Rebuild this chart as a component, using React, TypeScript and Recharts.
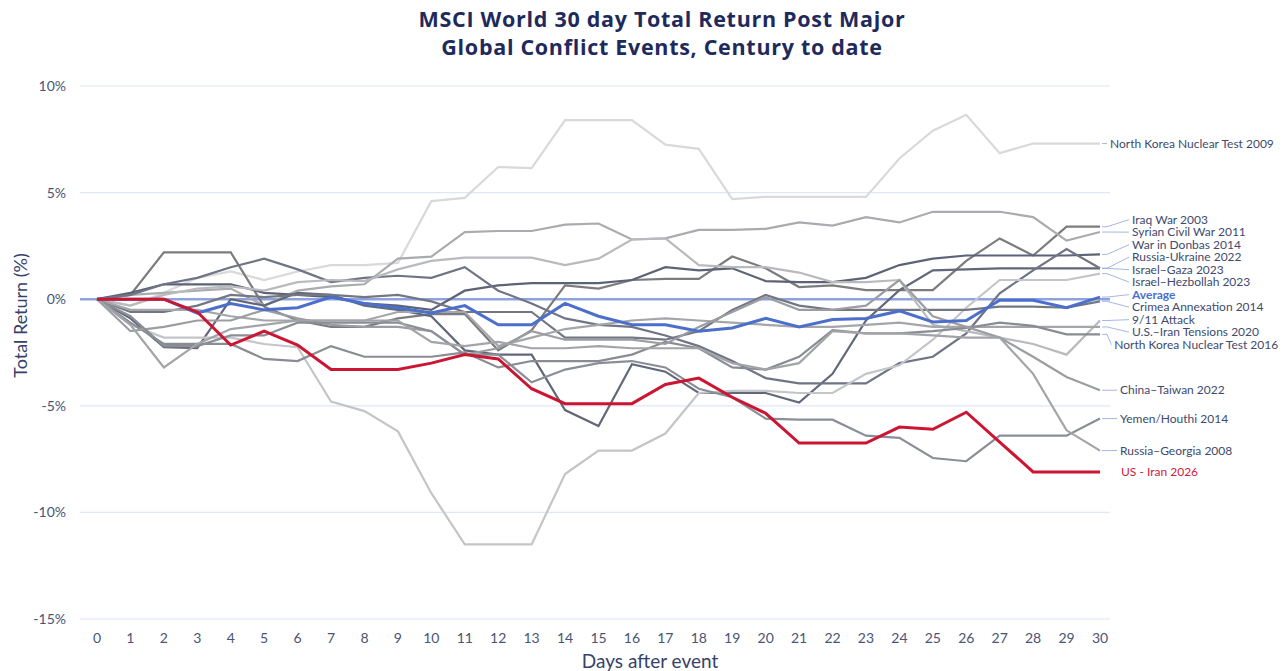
import React from 'react';
import { LineChart, Line, XAxis, YAxis, CartesianGrid, ReferenceLine } from 'recharts';

// days after the event
const days = [0, 1, 2, 3, 4, 5, 6, 7, 8, 9, 10, 11, 12, 13, 14, 15, 16, 17, 18, 19, 20, 21, 22, 23, 24, 25, 26, 27, 28, 29, 30];
const yTicks = [-15, -10, -5, 0, 5, 10];

// total return (%) per event
const northKorea2009 = [0, -0.3, 0.3, 1.0, 1.3, 0.9, 1.3, 1.6, 1.6, 1.7, 4.6, 4.75, 6.2, 6.15, 8.4, 8.4, 8.4, 7.25, 7.05, 4.7, 4.8, 4.8, 4.8, 4.8, 6.6, 7.9, 8.65, 6.85, 7.3, 7.3, 7.3];
const iraqWar = [0, 0.2, 2.2, 2.2, 2.2, -0.35, -1.0, -1.3, -1.3, -0.9, -0.7, -0.7, -2.4, -1.45, 0.65, 0.5, 0.9, 0.95, 0.95, 2.0, 1.45, 0.57, 0.65, 0.43, 0.43, 0.43, 1.8, 2.85, 2.05, 3.4, 3.4];
const syria = [0, 0.2, 0.3, 0.4, 0.5, -0.3, 0.4, 0.6, 0.7, 1.9, 2.0, 3.15, 3.2, 3.2, 3.5, 3.55, 2.8, 2.85, 3.25, 3.25, 3.3, 3.6, 3.45, 3.85, 3.6, 4.1, 4.1, 4.1, 3.85, 2.75, 3.15];
const donbas = [0, 0.3, 0.7, 0.7, 0.7, 0.3, 0.2, 0.1, -0.2, -0.3, -0.5, 0.4, 0.65, 0.75, 0.75, 0.75, 0.9, 1.5, 1.35, 1.45, 0.85, 0.8, 0.8, 1.0, 1.6, 1.9, 2.05, 2.05, 2.05, 2.05, 2.1];
const russiaUkraine = [0, -0.9, -2.25, -2.3, 0.0, -0.3, 0.3, 0.2, -0.3, -0.5, -0.8, -2.4, -2.6, -2.6, -5.2, -5.95, -3.05, -3.4, -4.4, -4.4, -4.4, -4.85, -3.5, -1.0, 0.42, 1.35, 1.4, 1.45, 1.45, 1.45, 1.45];
const israelGaza = [0, 0.2, 0.7, 1.0, 1.5, 1.9, 1.4, 0.8, 1.0, 1.1, 1.0, 1.5, 0.4, -0.2, -0.9, -1.2, -1.3, -1.7, -2.2, -2.9, -3.7, -3.95, -3.95, -3.95, -3.0, -2.7, -1.6, 0.28, 1.35, 2.35, 1.45];
const israelHezbollah = [0, -1.2, -1.8, -1.8, -1.8, -2.1, -2.25, -4.8, -5.25, -6.2, -9.1, -11.5, -11.5, -11.5, -8.2, -7.1, -7.1, -6.3, -4.4, -4.3, -4.3, -4.4, -4.4, -3.5, -3.1, -1.9, -0.4, 0.9, 0.9, 0.9, 1.2];
const crimea = [0, -0.6, -0.6, -0.3, 0.2, 0.1, 0.2, 0.2, 0.1, 0.2, -0.1, -0.6, -0.6, -0.6, -1.8, -1.8, -1.8, -1.9, -1.5, -0.5, 0.2, -0.3, -0.5, -0.5, -0.5, -0.5, -0.5, -0.35, -0.35, -0.4, -0.1];
const nineEleven = [0, -0.3, 0.2, 0.5, 0.6, 0.4, 0.8, 0.9, 0.85, 1.4, 1.8, 1.95, 1.95, 1.95, 1.6, 1.9, 2.8, 2.85, 1.6, 1.5, 1.5, 1.25, 0.8, 0.8, 0.9, -1.2, -1.5, -1.8, -2.1, -2.6, -1.0];
const usIran2020 = [0, -0.5, -0.5, -0.5, -0.8, -1.0, -1.0, -1.0, -1.0, -0.6, -0.6, -0.6, -2.2, -1.8, -1.4, -1.2, -1.0, -0.9, -1.0, -1.1, -1.2, -1.3, -1.3, -1.2, -1.1, -1.3, -1.3, -1.3, -1.3, -1.3, -1.3];
const northKorea2016 = [0, -1.1, -2.1, -2.1, -2.1, -2.8, -2.9, -2.2, -2.7, -2.7, -2.7, -2.5, -3.2, -2.9, -2.9, -2.9, -2.6, -2.0, -2.3, -3.2, -3.3, -2.7, -1.45, -1.6, -1.6, -1.5, -1.35, -1.1, -1.25, -1.65, -1.65];
const chinaTaiwan = [0, -1.5, -1.3, -1.0, -1.0, -0.5, -0.9, -1.2, -1.3, -1.3, -1.5, -2.6, -2.3, -1.5, -1.9, -1.9, -1.9, -2.1, -1.3, -0.6, 0.1, -0.5, -0.5, -0.3, 0.9, -0.8, -1.3, -1.8, -2.7, -3.65, -4.27];
const yemen = [0, -0.8, -2.2, -2.2, -1.7, -1.7, -1.1, -1.1, -1.1, -1.1, -1.5, -2.6, -2.6, -3.9, -3.3, -3.0, -2.9, -3.2, -4.2, -4.6, -5.6, -5.65, -5.65, -6.4, -6.5, -7.45, -7.6, -6.4, -6.4, -6.4, -5.6];
const russiaGeorgia = [0, -1.2, -3.2, -2.1, -1.4, -1.2, -1.0, -1.0, -1.0, -1.0, -2.0, -2.2, -2.0, -2.3, -2.3, -2.2, -2.3, -2.3, -2.3, -3.0, -3.3, -3.0, -1.5, -1.6, -1.6, -1.7, -1.8, -1.8, -3.5, -6.15, -7.1];
const average = [0, 0, 0, -0.65, -0.2, -0.5, -0.4, 0.1, -0.2, -0.4, -0.65, -0.3, -1.2, -1.2, -0.2, -0.8, -1.2, -1.2, -1.5, -1.35, -0.9, -1.3, -0.95, -0.9, -0.55, -1.07, -1.0, -0.05, -0.05, -0.4, 0.1];
const usIran2026 = [0, 0, 0, -0.6, -2.15, -1.5, -2.15, -3.3, -3.3, -3.3, -3.0, -2.6, -2.8, -4.2, -4.9, -4.9, -4.9, -4.0, -3.7, -4.6, -5.35, -6.75, -6.75, -6.75, -6.0, -6.1, -5.3, -6.7, -8.1, -8.1, -8.1];

const series = [
  { key: 'nk2009', name: 'North Korea Nuclear Test 2009', values: northKorea2009 },
  { key: 'iraq', name: 'Iraq War 2003', values: iraqWar },
  { key: 'syria', name: 'Syrian Civil War 2011', values: syria },
  { key: 'donbas', name: 'War in Donbas 2014', values: donbas },
  { key: 'ru', name: 'Russia-Ukraine 2022', values: russiaUkraine },
  { key: 'gaza', name: 'Israel–Gaza 2023', values: israelGaza },
  { key: 'hezbollah', name: 'Israel–Hezbollah 2023', values: israelHezbollah },
  { key: 'crimea', name: 'Crimea Annexation 2014', values: crimea },
  { key: 'nineEleven', name: '9/11 Attack', values: nineEleven },
  { key: 'usIran2020', name: 'U.S.–Iran Tensions 2020', values: usIran2020 },
  { key: 'nk2016', name: 'North Korea Nuclear Test 2016', values: northKorea2016 },
  { key: 'china', name: 'China–Taiwan 2022', values: chinaTaiwan },
  { key: 'yemen', name: 'Yemen/Houthi 2014', values: yemen },
  { key: 'georgia', name: 'Russia–Georgia 2008', values: russiaGeorgia },
  { key: 'avg', name: 'Average', values: average },
  { key: 'usIran2026', name: 'US - Iran 2026', values: usIran2026 },
];

const strokes: Record<string, string> = {
  nk2009: '#d9d9db',
  iraq: '#7c7c7e',
  syria: '#aaabaf',
  donbas: '#5d6376',
  ru: '#626879',
  gaza: '#6f7486',
  hezbollah: '#c4c5c9',
  crimea: '#737784',
  nineEleven: '#b9babd',
  usIran2020: '#a4a6aa',
  nk2016: '#8a8c93',
  china: '#9b9da2',
  yemen: '#8b8e96',
  georgia: '#a2a4a8',
  avg: '#4b6fcb',
  usIran2026: '#cc1533',
};

const data = days.map((day, i) => {
  const row: Record<string, number> = { day };
  series.forEach((s) => { row[s.key] = s.values[i]; });
  return row;
});

// chart geometry
const W = 1270;
const H = 663;
const TOP = 78;
const PLOT_H = 533;
const Y_MAX = 10;
const Y_MIN = -15;
const PX = PLOT_H / (Y_MAX - Y_MIN);
const LAST = days.length - 1;
const FONT = 'Lato, "Open Sans", sans-serif';
const RIGHT_EDGE = 1276;

// spread the end labels so they don't overlap
const GAP = 12.5;
const labelLayout: Record<string, { y: number; crowded: boolean }> = (() => {
  const pts = series.map((s) => {
    const y0 = (Y_MAX - s.values[LAST]) * PX;
    return { key: s.key, y0, y: y0 };
  });
  pts.sort((a, b) => a.y - b.y);
  for (let it = 0; it < 400; it++) {
    for (let i = 0; i < pts.length - 1; i++) {
      const d = pts[i + 1].y - pts[i].y;
      if (d < GAP) {
        const m = (GAP - d) / 2;
        pts[i].y -= m;
        pts[i + 1].y += m;
      }
    }
  }
  const out: Record<string, { y: number; crowded: boolean }> = {};
  pts.forEach((p, i) => {
    const prev = i > 0 ? p.y - pts[i - 1].y : 99;
    const next = i < pts.length - 1 ? pts[i + 1].y - p.y : 99;
    out[p.key] = { y: p.y, crowded: Math.min(prev, next) < 20 };
  });
  return out;
})();

const renderEndLabel = (props: any, s: { key: string; name: string; values: number[] }) => {
  const { x, y, index, value } = props;
  if (index !== LAST) return null;
  const lay = labelLayout[s.key];
  const ly = y + (lay.y - (Y_MAX - value) * PX);
  const isRed = s.key === 'usIran2026';
  const isAvg = s.key === 'avg';
  let dx = isRed ? 21 : lay.crowded ? 32 : 20;
  if (s.key === 'nk2009') dx = 10;
  // keep long names inside the page
  dx = Math.min(dx, RIGHT_EDGE - x - s.name.length * 5.85);
  return (
    <g key={`lbl-${s.key}`}>
      {!isRed && (
        <polyline
          points={`${x + 2},${y} ${x + 7},${y} ${x + dx - 3},${ly}`}
          fill="none"
          stroke="#8fa3e0"
          strokeWidth={0.8}
        />
      )}
      <text
        x={x + dx}
        y={ly}
        dy="0.35em"
        fontFamily={FONT}
        fontSize={12}
        fontWeight={isAvg ? 700 : 400}
        fill={isRed ? '#d0203c' : isAvg ? '#4b6fcb' : '#3e4a6e'}
      >
        {s.name}
      </text>
    </g>
  );
};

const titleStyle: React.CSSProperties = {
  position: 'absolute',
  left: 304,
  width: 700,
  textAlign: 'center',
  fontFamily: '"Open Sans", sans-serif',
  fontWeight: 700,
  fontSize: 21.5,
  letterSpacing: 0.7,
  lineHeight: '22px',
  color: '#1e2a5c',
  whiteSpace: 'nowrap',
};

const App: React.FC = () => {
  return (
    <div style={{ position: 'relative', width: W, height: H, background: '#fff' }}>
      <div style={{ ...titleStyle, top: 0 }}>MSCI World 30 day Total Return Post Major</div>
      <div style={{ ...titleStyle, top: 28 }}>Global Conflict Events, Century to date</div>
      <LineChart
        width={W}
        height={H}
        data={data}
        margin={{ top: TOP, right: 168, left: 0, bottom: 0 }}
      >
        <CartesianGrid vertical={false} stroke="#e0e6f6" strokeWidth={1.2} />
        <XAxis
          dataKey="day"
          type="number"
          domain={[0, 30]}
          ticks={days}
          interval={0}
          padding={{ left: 17, right: 10 }}
          height={H - TOP - PLOT_H}
          tickLine={false}
          axisLine={false}
          tickMargin={8}
          tick={{ fill: '#4a5474', fontSize: 14, fontFamily: FONT }}
          label={({ viewBox }: any) => (
            <text
              x={viewBox.x + viewBox.width / 2 + 55}
              y={viewBox.y + viewBox.height - 3}
              textAnchor="middle"
              fontFamily={FONT}
              fontSize={19}
              fill="#36426b"
            >
              Days after event
            </text>
          )}
        />
        <YAxis
          domain={[Y_MIN, Y_MAX]}
          ticks={yTicks}
          width={72}
          tickLine={false}
          axisLine={false}
          tickMargin={8}
          tickFormatter={(v) => `${v}%`}
          tick={{ fill: '#4a5474', fontSize: 14, fontFamily: FONT }}
          label={({ viewBox }: any) => (
            <text
              x={12}
              y={viewBox.y + viewBox.height / 2 - 37}
              transform={`rotate(-90, 12, ${viewBox.y + viewBox.height / 2 - 37})`}
              textAnchor="middle"
              dominantBaseline="central"
              fontFamily={FONT}
              fontSize={18}
              fill="#36426b"
            >
              Total Return (%)
            </text>
          )}
        />
        <ReferenceLine y={0} stroke="#8ea2df" strokeWidth={2.5} />
        {series.map((s) => (
          <Line
            key={s.key}
            dataKey={s.key}
            type="linear"
            stroke={strokes[s.key]}
            strokeWidth={s.key === 'avg' || s.key === 'usIran2026' ? 3 : 2.2}
            dot={false}
            activeDot={false}
            isAnimationActive={false}
            label={(p: any) => renderEndLabel(p, s)}
          />
        ))}
      </LineChart>
    </div>
  );
};

export default App;
